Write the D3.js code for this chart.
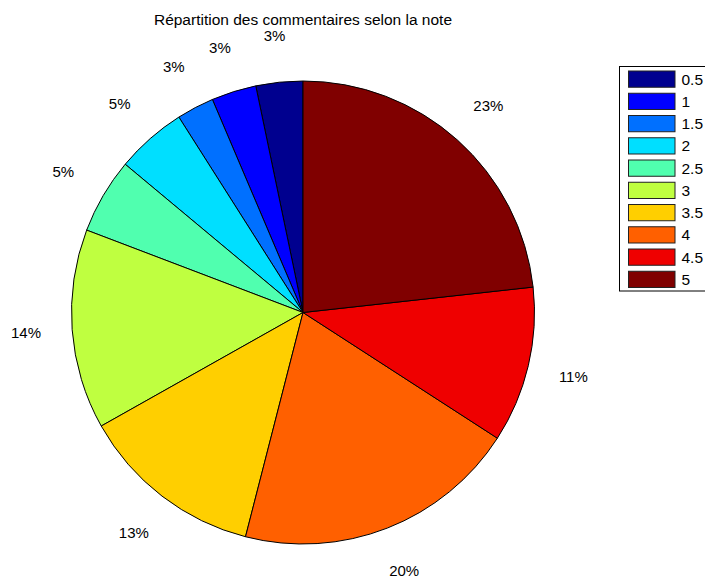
<!DOCTYPE html>
<html>
<head>
<meta charset="utf-8">
<script src="https://cdn.jsdelivr.net/npm/d3@7/dist/d3.min.js"></script>
<style>
  html, body { margin: 0; padding: 0; background: #fff; }
  svg { display: block; }
  text { font-family: "Liberation Sans", Arial, Helvetica, sans-serif; fill: #000; }
</style>
</head>
<body>
<svg id="chart" width="705" height="578"></svg>
<script>
const title = "Répartition des commentaires selon la note";
const categories = ["0.5", "1", "1.5", "2", "2.5", "3", "3.5", "4", "4.5", "5"];
const shares = [3.27, 3.13, 2.61, 4.93, 5.27, 13.95, 12.85, 19.86, 10.89, 23.25];
const colors = ["#00008F", "#0000FF", "#0070FF", "#00DFFF", "#50FFAF",
                "#BFFF40", "#FFCF00", "#FF6000", "#EF0000", "#800000"];

const svg = d3.select("#chart");
const cx = 303, cy = 312.5, r = 231.5;
const total = d3.sum(shares);

const data = categories.map((c, i) => ({ cat: c, value: shares[i], color: colors[i] }));

const pie = d3.pie().value(d => d.value).sort(null)
  .startAngle(0).endAngle(-2 * Math.PI);
const arcs = pie(data);
const arc = d3.arc().innerRadius(0).outerRadius(r);

const g = svg.append("g").attr("transform", `translate(${cx},${cy})`);

g.selectAll("path.slice").data(arcs).join("path")
  .attr("class", "slice")
  .attr("d", arc)
  .attr("fill", d => d.data.color)
  .attr("stroke", "#000")
  .attr("stroke-width", 1)
  .attr("stroke-linejoin", "round");

const labelR = r * 1.2;
g.selectAll("text.pct").data(arcs).join("text")
  .attr("class", "pct")
  .attr("x", d => labelR * Math.sin((d.startAngle + d.endAngle) / 2))
  .attr("y", d => -labelR * Math.cos((d.startAngle + d.endAngle) / 2))
  .attr("dy", "0.35em")
  .attr("text-anchor", "middle")
  .attr("font-size", 15)
  .text(d => Math.round(d.data.value / total * 100) + "%");

svg.append("text")
  .attr("x", cx)
  .attr("y", 25)
  .attr("text-anchor", "middle")
  .attr("font-size", 15.5)
  .text(title);

// legend
const lx = 619.5, ly = 66.5, lw = 100, lh = 224.5;
const lg = svg.append("g");
lg.append("rect")
  .attr("x", lx).attr("y", ly).attr("width", lw).attr("height", lh)
  .attr("fill", "#fff").attr("stroke", "#000").attr("stroke-width", 1);

const rowY = d3.scaleBand().domain(categories).range([ly + 4.5, ly + lh - 3.5]).paddingInner(0.27).paddingOuter(0);
const rows = lg.selectAll("g.row").data(data).join("g").attr("class", "row");
rows.append("rect")
  .attr("x", lx + 9)
  .attr("y", d => rowY(d.cat))
  .attr("width", 46.5)
  .attr("height", rowY.bandwidth())
  .attr("fill", d => d.color)
  .attr("stroke", "#222")
  .attr("stroke-width", 1);
rows.append("text")
  .attr("x", lx + 62)
  .attr("y", d => rowY(d.cat) + rowY.bandwidth() / 2)
  .attr("dy", "0.35em")
  .attr("font-size", 15.5)
  .text(d => d.cat);
</script>
</body>
</html>
